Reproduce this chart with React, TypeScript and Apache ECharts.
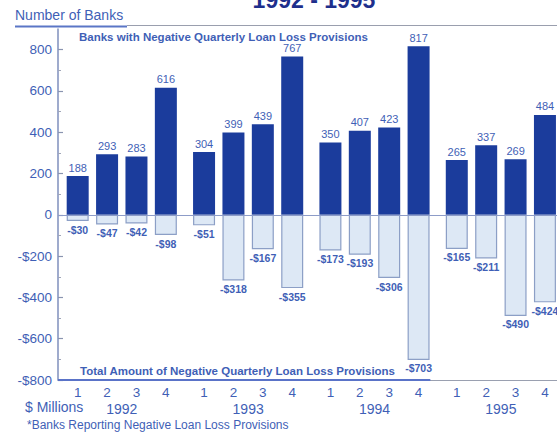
import React, { useEffect, useRef } from "react";
import * as echarts from "echarts";

const quarters = ["1", "2", "3", "4"];
const years = ["1992", "1993", "1994", "1995"];
const banks = [188, 293, 283, 616, 304, 399, 439, 767, 350, 407, 423, 817, 265, 337, 269, 484];
const amounts = [-30, -47, -42, -98, -51, -318, -167, -355, -173, -193, -306, -703, -165, -211, -490, -424];
const yTicks = [-800, -600, -400, -200, 0, 200, 400, 600, 800];
const yMinorTicks = [-700, -500, -300, -100, 100, 300, 500, 700];

const YEAR_STEP = 4.3;
const qPos = banks.map((_, i) => Math.floor(i / 4) * YEAR_STEP + (i % 4) + 1);
const qLabel = banks.map((_, i) => quarters[i % 4]);
const yearPos = years.map((_, j) => j * YEAR_STEP + 2.5);

const BLUE_TEXT = "#3f5fb6";
const FONT = "'Liberation Sans', Arial, sans-serif";

function nearestIndex(arr: number[], v: number) {
  let best = 0;
  for (let i = 0; i < arr.length; i++) if (Math.abs(arr[i] - v) < Math.abs(arr[best] - v)) best = i;
  return best;
}

export default function App() {
  const ref = useRef<HTMLDivElement>(null);
  useEffect(() => {
    const chart = echarts.init(ref.current!, null, { renderer: "svg" });
    const xMin = 0.33;
    const xMax = 17.31;
    chart.setOption({
      animation: false,
      backgroundColor: "#ffffff",
      textStyle: { fontFamily: FONT },
      grid: { left: 58, right: 0, top: 29, bottom: 53 },
      xAxis: [
        {
          type: "value",
          min: xMin,
          max: xMax,
          axisLine: { show: true, onZero: false, lineStyle: { color: "#9aa0b0", width: 1 } },
          axisTick: { show: false },
          splitLine: { show: false },
          axisLabel: {
            customValues: qPos,
            formatter: (v: number) => qLabel[nearestIndex(qPos, v)],
            color: BLUE_TEXT,
            fontSize: 13.5,
            margin: 5,
            fontFamily: FONT,
          },
        },
        {
          type: "value",
          min: xMin,
          max: xMax,
          position: "bottom",
          axisLine: { show: false },
          axisTick: { show: false },
          splitLine: { show: false },
          axisLabel: {
            customValues: yearPos,
            formatter: (v: number) => years[nearestIndex(yearPos, v)],
            color: BLUE_TEXT,
            fontSize: 14,
            margin: 22,
            fontFamily: FONT,
          },
        },
      ],
      yAxis: [
        {
          type: "value",
          min: -800,
          max: 900,
          interval: 100,
          axisLine: { show: true, lineStyle: { color: "#7f8fbd", width: 1.5 } },
          axisTick: { show: true, inside: true, length: 5, customValues: yTicks, lineStyle: { color: "#8a94b0", width: 1.2 } },
          splitLine: { show: false },
          axisLabel: {
            customValues: yTicks,
            formatter: (v: number) => (v < 0 ? "-$" + -v : String(v)),
            color: BLUE_TEXT,
            fontSize: 13.5,
            margin: 6,
            fontFamily: FONT,
          },
        },
        {
          type: "value",
          min: -800,
          max: 900,
          interval: 100,
          position: "left",
          axisLine: { show: false },
          axisTick: { show: true, inside: true, length: 3, customValues: yMinorTicks, lineStyle: { color: "#a0a6b8", width: 1 } },
          axisLabel: { show: false },
          splitLine: { show: false },
        },
      ],
      series: [
        {
          type: "bar",
          stack: "q",
          barWidth: 22,
          data: banks.map((v, i) => [qPos[i], v]),
          itemStyle: { color: "#1b3c9c" },
          label: {
            show: true,
            position: "top",
            distance: 3,
            color: BLUE_TEXT,
            fontSize: 11,
            fontFamily: FONT,
            formatter: (p: any) => String(p.value[1]),
          },
          markLine: {
            silent: true,
            symbol: "none",
            label: { show: false },
            data: [
              [
                { coord: [xMin, -800], lineStyle: { color: "#5a73c8", width: 2, type: "solid" } },
                { coord: [13, -800] },
              ],
              [
                { coord: [xMin, 0], lineStyle: { color: "#8d9cc8", width: 1, type: "solid" } },
                { coord: [xMax, 0] },
              ],
            ],
          },
        },
        {
          type: "bar",
          stack: "q",
          barWidth: 22,
          data: amounts.map((v, i) => [qPos[i], v]),
          itemStyle: { color: "#dde8f5", borderColor: "#8c9fc6", borderWidth: 1.2 },
          label: {
            show: true,
            position: "bottom",
            distance: 3,
            color: BLUE_TEXT,
            fontSize: 10.5,
            fontWeight: "bold",
            fontFamily: FONT,
            formatter: (p: any) => "-$" + -p.value[1],
          },
        },
      ],
      graphic: [
        {
          type: "text",
          x: 314,
          y: 0,
          style: { text: "1992 - 1995", font: `bold 23px ${FONT}`, fill: "#1e2f8c", align: "center", verticalAlign: "middle" },
        },
        {
          type: "text",
          x: 15,
          y: 15,
          style: { text: "Number of Banks", font: `14px ${FONT}`, fill: BLUE_TEXT, verticalAlign: "middle" },
        },
        { type: "line", shape: { x1: 15, y1: 26.5, x2: 127, y2: 26.5 }, style: { stroke: "#5b76c6", lineWidth: 2 } },
        { type: "line", shape: { x1: 127, y1: 25.5, x2: 557, y2: 25.5 }, style: { stroke: "#9a9fae", lineWidth: 1 } },
        {
          type: "text",
          x: 79,
          y: 37,
          style: { text: "Banks with Negative Quarterly Loan Loss Provisions", font: `bold 11.5px ${FONT}`, fill: BLUE_TEXT, verticalAlign: "middle" },
        },
        {
          type: "text",
          x: 80,
          y: 371,
          style: { text: "Total Amount of Negative Quarterly Loan Loss Provisions", font: `bold 11.5px ${FONT}`, fill: BLUE_TEXT, verticalAlign: "middle" },
        },
        {
          type: "text",
          x: 25,
          y: 407,
          style: { text: "$ Millions", font: `14px ${FONT}`, fill: BLUE_TEXT, verticalAlign: "middle" },
        },
        {
          type: "text",
          x: 27,
          y: 425,
          style: { text: "*Banks Reporting Negative Loan Loss Provisions", font: `12px ${FONT}`, fill: BLUE_TEXT, verticalAlign: "middle" },
        },
      ],
    });
    return () => chart.dispose();
  }, []);
  return (
    <div
      ref={ref}
      style={{ position: "absolute", left: 0, top: 0, width: 557, height: 433, background: "#fff" }}
    />
  );
}
